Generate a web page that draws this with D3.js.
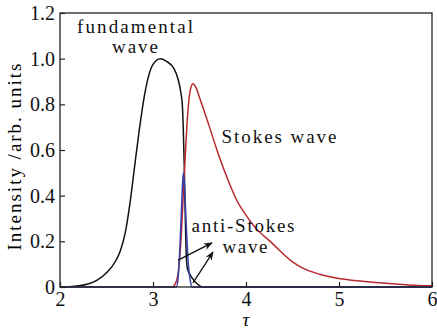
<!DOCTYPE html>
<html>
<head>
<meta charset="utf-8">
<script src="https://cdn.jsdelivr.net/npm/d3@7"></script>
</head>
<body style="margin:0;background:#fff">
<svg id="chart" width="437" height="330" font-family="Liberation Serif"></svg>
<script>
// values (tau, intensity)
const fundTau = [2.0, 2.1, 2.2, 2.3, 2.4, 2.5, 2.6, 2.65, 2.7, 2.75, 2.8, 2.85, 2.9, 2.95, 3.0, 3.08, 3.15, 3.22, 3.27, 3.3, 3.315, 3.325, 3.335, 3.345, 3.355, 3.37, 3.42, 3.48, 3.54, 4.0, 5.0, 6.0];
const fundVal = [0, 0.001, 0.005, 0.013, 0.03, 0.062, 0.115, 0.16, 0.235, 0.36, 0.52, 0.68, 0.82, 0.92, 0.975, 1.0, 0.987, 0.96, 0.91, 0.85, 0.8, 0.7, 0.55, 0.35, 0.17, 0.08, 0.04, 0.012, 0, 0, 0, 0];

const stokesTau = [2.0, 3.0, 3.2, 3.24, 3.27, 3.3, 3.33, 3.35, 3.37, 3.4, 3.43, 3.46, 3.5, 3.6, 3.7, 3.8, 3.9, 4.0, 4.1, 4.26, 4.5, 4.6, 4.8, 5.0, 5.25, 5.5, 5.75, 6.0];
const stokesVal = [0, 0, 0, 0.015, 0.06, 0.2, 0.44, 0.6, 0.74, 0.86, 0.89, 0.875, 0.83, 0.71, 0.585, 0.475, 0.38, 0.315, 0.26, 0.2, 0.11, 0.085, 0.055, 0.037, 0.025, 0.016, 0.009, 0.005];

const antiTau = [2.0, 3.0, 3.25, 3.27, 3.29, 3.31, 3.326, 3.34, 3.36, 3.38, 3.4, 3.42, 4.0, 5.0, 6.0];
const antiVal = [0, 0, 0, 0.04, 0.18, 0.38, 0.5, 0.43, 0.25, 0.1, 0.03, 0, 0, 0, 0];

const xTicks = [2, 3, 4, 5, 6];
const yTicks = [0, 0.2, 0.4, 0.6, 0.8, 1.0, 1.2];
const yTickLabels = ["0", "0.2", "0.4", "0.6", "0.8", "1.0", "1.2"];

// arrows pointing at the anti-Stokes peak [from tau, from I, to tau, to I]
const arrows = [[3.27, 0.118, 3.634, 0.193], [3.43, 0.018, 3.645, 0.153]];

const FONT = "Liberation Serif, Times New Roman, serif";

const svg = d3.select("#chart");
const margin = {left: 60, right: 5, top: 13, bottom: 43};
const W = 437, H = 330;

const x = d3.scaleLinear().domain([2, 6]).range([margin.left, W - margin.right]);
const y = d3.scaleLinear().domain([0, 1.2]).range([H - margin.bottom, margin.top]);

const defs = svg.append("defs");
defs.append("marker")
	.attr("id", "arr")
	.attr("viewBox", "0 0 10 10")
	.attr("refX", 9).attr("refY", 5)
	.attr("markerWidth", 9).attr("markerHeight", 9)
	.attr("markerUnits", "userSpaceOnUse")
	.attr("orient", "auto")
	.append("path")
	.attr("d", "M0,1 L10,5 L0,9 L3,5 Z")
	.attr("fill", "#111");

// curves
const line = d3.line().x(d => x(d[0])).y(d => y(d[1])).curve(d3.curveMonotoneX);

function drawCurve(ts, vs, color) {
	svg.append("path")
		.datum(d3.zip(ts, vs))
		.attr("d", line)
		.attr("fill", "none")
		.attr("stroke", color)
		.attr("stroke-width", 1.5);
}
drawCurve(fundTau, fundVal, "#111");
drawCurve(stokesTau, stokesVal, "#b8292f");
drawCurve(antiTau, antiVal, "#3a3fa8");

// frame + axes
svg.append("rect")
	.attr("x", x(2)).attr("y", y(1.2))
	.attr("width", x(6) - x(2)).attr("height", y(0) - y(1.2))
	.attr("fill", "none").attr("stroke", "#222").attr("stroke-width", 1.3);

const xAxis = svg.append("g")
	.attr("transform", "translate(0," + y(0) + ")")
	.call(d3.axisBottom(x).tickValues(xTicks).tickSize(-5).tickPadding(5).tickFormat(d3.format("d")));
const yAxis = svg.append("g")
	.attr("transform", "translate(" + x(2) + ",0)")
	.call(d3.axisLeft(y).tickValues(yTicks).tickSize(-5).tickPadding(5).tickFormat((d, i) => yTickLabels[i]));
[xAxis, yAxis].forEach(g => {
	g.select(".domain").remove();
	g.attr("font-family", FONT).attr("font-size", 20);
	g.selectAll("line").attr("stroke", "#222").attr("stroke-width", 1.2);
	g.selectAll("text").style("font-family", FONT).attr("font-size", 20).attr("fill", "#111");
});
yAxis.selectAll("text").attr("textLength", (d, i) => yTickLabels[i].length > 1 ? 25 : null);

// axis titles
svg.append("text")
	.attr("transform", "translate(21," + ((y(0) + y(1.2)) / 2 + 7) + ") rotate(-90)")
	.attr("text-anchor", "middle")
	.style("font-family", FONT)
	.attr("font-size", 19)
	.attr("textLength", 187)
	.text("Intensity /arb. units");
svg.append("text")
	.attr("x", x(4)).attr("y", 326)
	.attr("text-anchor", "middle")
	.style("font-family", FONT)
	.attr("font-size", 19)
	.attr("font-style", "italic")
	.text("τ");

// annotations [text, centre x, baseline y, width]
const notes = [
	["fundamental", 135, 33, 116],
	["wave", 135, 53, 46],
	["Stokes wave", 279, 143, 115],
	["anti-Stokes", 243, 232, 103],
	["wave", 245, 253, 45]
];
svg.selectAll(".note")
	.data(notes)
	.enter().append("text")
	.attr("class", "note")
	.attr("x", d => d[1]).attr("y", d => d[2])
	.attr("text-anchor", "middle")
	.style("font-family", FONT)
	.attr("font-size", 19)
	.attr("fill", "#111")
	.attr("textLength", d => d[3])
	.attr("lengthAdjust", "spacing")
	.text(d => d[0]);

svg.selectAll(".arrow")
	.data(arrows)
	.enter().append("line")
	.attr("class", "arrow")
	.attr("x1", d => x(d[0])).attr("y1", d => y(d[1]))
	.attr("x2", d => x(d[2])).attr("y2", d => y(d[3]))
	.attr("stroke", "#111").attr("stroke-width", 1.3)
	.attr("marker-end", "url(#arr)");
</script>
</body>
</html>
